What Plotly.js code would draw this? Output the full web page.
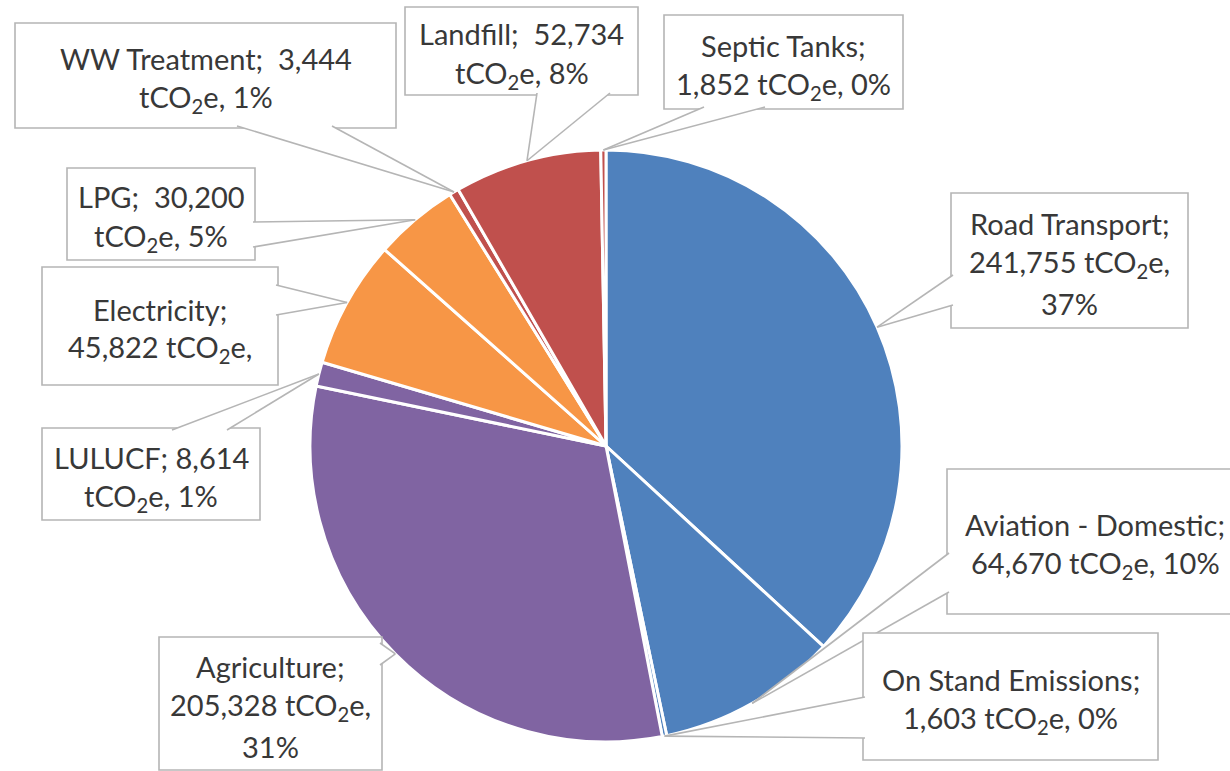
<!DOCTYPE html>
<html>
<head>
<meta charset="utf-8">
<script src="https://cdn.plot.ly/plotly-3.0.1.min.js"></script>
<style>html,body{margin:0;padding:0;background:#fff;}#chart{width:1230px;height:771px;}</style>
</head>
<body>
<div id="chart"></div>
<script>
// ---- data ----
const categories = ['Road Transport','Aviation - Domestic','On Stand Emissions','Agriculture','LULUCF','Electricity','LPG','WW Treatment','Landfill','Septic Tanks'];
const emissions = [241755, 64670, 1603, 205328, 8614, 45822, 30200, 3444, 52734, 1852];
const unitLabel = 'tCO<sub>2</sub>e';

// ---- style / layout ----
const sliceColors = ['#4F81BD','#4F81BD','#4F81BD','#8064A2','#8064A2','#F79646','#F79646','#C0504D','#C0504D','#C0504D'];
// label line-wrap style per category
const wrapStyle = ['B','A','A','B','C1','D','C','C','C','A'];
// label boxes in pixels [left, top, right, bottom]
const boxes = [
  [951,193,1188,328],
  [947,469,1243,614],
  [863,633,1158,760],
  [159,637,382,770],
  [42,428,260,520],
  [42,267,278,385],
  [67,168,255,260],
  [15,23,396,128],
  [405,7,638,95],
  [664,15,903,109]
];
// callout base: side of box and range along it (pixels)
const wedgeBase = [
  ['left',275,305],
  ['left',553,592],
  ['left',697,738],
  ['right',643,665],
  ['top',172,227],
  ['right',285,315],
  ['right',222,247],
  ['bottom',237,332],
  ['bottom',537,610],
  ['bottom',704,765]
];

const W = 1230, H = 771;
const CX = 606, CY = 446, R = 296;
const LINE_GAP = 40;
const BORDER = '#b5b5b5';
const TEXT_COLOR = '#383838';
const FONT = 'Lato, Calibri, Carlito, sans-serif';

const X = x => x / W;
const Y = y => 1 - y / H;

const total = emissions.reduce((a, b) => a + b, 0);
const fmt = v => v.toLocaleString('en-US');
const pct = v => Math.round(v / total * 100) + '%';

function labelLines(i) {
  const n = categories[i], v = fmt(emissions[i]), p = pct(emissions[i]);
  switch (wrapStyle[i]) {
    case 'A': return [n + ';', v + ' ' + unitLabel + ', ' + p];
    case 'B': return [n + ';', v + ' ' + unitLabel + ',', p];
    case 'C': return [n + ';\u00a0 ' + v, unitLabel + ', ' + p];
    case 'C1': return [n + '; ' + v, unitLabel + ', ' + p];
    case 'D': return [n + ';', v + ' ' + unitLabel + ','];
  }
}

const trace = {
  type: 'pie',
  labels: categories,
  values: emissions,
  sort: false,
  direction: 'clockwise',
  rotation: 0,
  textinfo: 'none',
  hoverinfo: 'label+value+percent',
  marker: { colors: sliceColors, line: { color: '#ffffff', width: 3 } },
  domain: { x: [X(CX - R), X(CX + R)], y: [Y(CY + R), Y(CY - R)] }
};

const shapes = [];
const annotations = [];
let cum = 0;
emissions.forEach((v, i) => {
  const mid = (cum + v / 2) / total * 2 * Math.PI;
  cum += v;
  const tip = [CX + R * Math.sin(mid), CY - R * Math.cos(mid)];
  const [x0, y0, x1, y1] = boxes[i];
  shapes.push({ type: 'rect', xref: 'paper', yref: 'paper', x0: X(x0), x1: X(x1), y0: Y(y0), y1: Y(y1),
    fillcolor: '#ffffff', line: { color: BORDER, width: 1.6 }, layer: 'above' });
  const [side, a, b] = wedgeBase[i];
  let p1, p2;
  if (side === 'bottom') { p1 = [a, y1 - 2]; p2 = [b, y1 - 2]; }
  else if (side === 'top') { p1 = [a, y0 + 2]; p2 = [b, y0 + 2]; }
  else if (side === 'left') { p1 = [x0 + 2, a]; p2 = [x0 + 2, b]; }
  else { p1 = [x1 - 2, a]; p2 = [x1 - 2, b]; }
  shapes.push({ type: 'path', xref: 'paper', yref: 'paper', layer: 'above',
    path: `M ${X(p1[0])},${Y(p1[1])} L ${X(tip[0])},${Y(tip[1])} L ${X(p2[0])},${Y(p2[1])} Z`,
    fillcolor: '#ffffff', line: { width: 0 } });
  [p1, p2].forEach(p => shapes.push({ type: 'line', xref: 'paper', yref: 'paper', layer: 'above',
    x0: X(p[0]), y0: Y(p[1]), x1: X(tip[0]), y1: Y(tip[1]), line: { color: BORDER, width: 1.6 } }));
  const lines = labelLines(i);
  const cxBox = (x0 + x1) / 2, cyBox = (y0 + y1) / 2 + 3;
  lines.forEach((t, k) => {
    annotations.push({ xref: 'paper', yref: 'paper', x: X(cxBox), y: Y(cyBox + (k - (lines.length - 1) / 2) * LINE_GAP),
      xanchor: 'center', yanchor: 'middle', showarrow: false, text: t,
      font: { family: FONT, size: 29, color: TEXT_COLOR } });
  });
});

const layout = {
  width: W, height: H,
  margin: { l: 0, r: 0, t: 0, b: 0 },
  paper_bgcolor: '#ffffff',
  showlegend: false,
  shapes: shapes,
  annotations: annotations
};

Plotly.newPlot('chart', [trace], layout, { displayModeBar: false, staticPlot: true });
</script>
</body>
</html>
